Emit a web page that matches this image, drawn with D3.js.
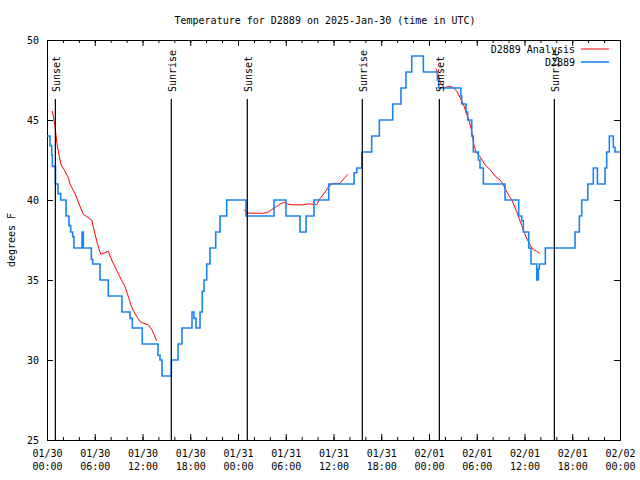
<!DOCTYPE html>
<html>
<head>
<meta charset="utf-8">
<script src="https://cdn.jsdelivr.net/npm/d3@7"></script>
<style>
    body { margin: 0; background: #fff; }
    text { font-family: "DejaVu Sans Mono", monospace; font-size: 10px; fill: #000; }
</style>
</head>
<body>
<div id="chart"></div>
<script>
const startTime = Date.UTC(2025, 0, 30);

// observations: hours since 01/30 00:00 UTC where the reading changes, and the new reading
const obsHours = [0.0, 0.38, 0.59, 0.67, 1.07, 1.38, 1.72, 2.39, 2.76, 2.98, 3.23, 3.39, 4.40, 4.56,
    5.57, 5.74, 6.66, 7.70, 9.42, 10.43, 10.72, 11.97, 13.95, 14.20, 14.45, 15.62, 16.46, 16.96,
    18.22, 18.47, 18.72, 19.23, 19.51, 19.73, 20.07, 20.48, 21.20, 21.74, 22.58, 25.01, 28.53,
    30.03, 31.79, 32.55, 33.55, 35.40, 38.58, 38.92, 39.55, 40.80, 41.76, 43.44, 44.48, 45.11,
    45.83, 47.29, 49.05, 49.22, 51.99, 52.11, 52.65, 52.86, 53.37, 53.57, 54.20, 54.41, 54.83,
    57.55, 59.27, 59.65, 59.85, 60.53, 60.82, 61.54, 61.74, 61.86, 62.62, 66.35, 66.89, 67.19,
    67.95, 68.65, 69.16, 70.12, 70.33, 70.66, 71.16, 71.37, 72.0];
const obsTemps = [44, 43.4, 42.8, 42.1, 41, 40.4, 40, 39, 38.4, 38, 37.7, 37, 38, 37,
    36.3, 36, 35, 34, 33, 32.6, 32, 31, 30.3, 30, 29, 30, 31, 32,
    33, 32.6, 32, 33, 34.3, 35, 36, 37, 38, 39, 40, 39, 40,
    39, 38, 39, 40, 41, 41.7, 42, 43, 44, 45, 46, 47, 48,
    49, 48, 47.5, 47, 46.5, 46, 45.5, 45, 44, 43, 42.5, 42, 41,
    40, 39, 38.7, 38, 37, 36, 35, 35.7, 36, 37, 38, 39, 40,
    41, 42, 41, 42, 43, 44, 43.3, 43, 43];

// analysis: null marks a gap between runs
const analysisHours = [0.67, 1.01, 1.13, 1.29, 1.55, 1.76, 2.14, 2.68, 2.89, 3.52, 4.15, 4.56, 4.99,
    5.62, 5.91, 6.32, 6.75, 7.29, 7.70, 8.13, 8.76, 9.39, 9.80, 10.22, 10.64, 11.06, 11.69,
    12.10, 12.73, 13.16, 13.48, 13.78, null,
    24.79, 25.09, 25.92, 27.18, 27.81, 28.24, 28.86, 29.49, 29.91, 30.20, 30.75, 32.21, 32.63,
    33.26, 33.89, 34.31, 34.81, 35.35, 35.90, 36.82, 37.23, 37.79, null,
    48.88, 49.10, 49.38, 49.60, 50.01, 50.64, 51.14, 51.48, 51.90, 52.31, 52.71, 53.07, 53.37,
    53.66, 53.91, 54.41, 55.04, 55.67, 56.30, 56.93, 57.34, 57.84, 58.40, 59.00, 59.65, 60.19,
    60.69, 61.11, 61.54, 61.86];
const analysisTemps = [45.56, 44.6, 44.06, 43.4, 42.7, 42.2, 41.9, 41.4, 41.0, 40.4, 39.6, 39.1, 38.96,
    38.75, 38.1, 37.3, 36.6, 36.7, 36.8, 36.25, 35.6, 34.96, 34.6, 33.96, 33.3, 32.9, 32.4,
    32.3, 32.2, 31.9, 31.56, 31.2, null,
    39.4, 39.2, 39.17, 39.17, 39.25, 39.4, 39.6, 39.8, 39.86, 39.75, 39.7, 39.7, 39.75,
    39.75, 39.7, 40.1, 40.4, 40.8, 41.04, 41.04, 41.3, 41.6, null,
    48.2, 47.9, 47.4, 47.2, 47.04, 47.1, 47.0, 46.8, 46.4, 46.0, 45.4, 44.9, 44.3,
    43.4, 43.0, 42.7, 42.2, 41.9, 41.5, 41.25, 40.95, 40.45, 40.0, 39.3, 38.4, 37.7,
    37.2, 36.9, 36.8, 36.67];

const sunHours = [1.05, 15.62, 25.17, 39.62, 49.3, 63.75];
const sunLabels = ["Sunset", "Sunrise", "Sunset", "Sunrise", "Sunset", "Sunrise"];

const xTickHours = [0, 6, 12, 18, 24, 30, 36, 42, 48, 54, 60, 66, 72];
const xMinorHours = d3.range(0, 73, 2);
const yTicks = [25, 30, 35, 40, 45, 50];

const legendNames = ["D2889 Analysis", "D2889"];
const legendColors = ["#ff0000", "#1a84f2"];

const hourToDate = h => new Date(startTime + h * 3600 * 1000);

class TemperatureChart {
    constructor(selector) {
        this.selector = selector;
        this.margin = { top: 40, right: 20, bottom: 40, left: 47 };
        this.width = 640 - this.margin.left - this.margin.right;
        this.height = 480 - this.margin.top - this.margin.bottom;
    }

    createCanvas() {
        const root = d3.select(this.selector)
            .append("svg")
            .attr("width", 640)
            .attr("height", 480);
        this.root = root;
        return root.append("g")
            .attr("transform", "translate(" + this.margin.left + "," + this.margin.top + ")");
    }

    createScales() {
        this.x = d3.scaleUtc()
            .domain([hourToDate(0), hourToDate(72)])
            .range([0, this.width]);
        this.y = d3.scaleLinear()
            .domain([25, 50])
            .range([this.height, 0]);
    }

    renderAxes(svg) {
        const x = this.x, y = this.y;
        const dayFmt = d3.utcFormat("%m/%d"), timeFmt = d3.utcFormat("%H:%M");

        // minor ticks, bottom and top
        svg.append("g")
            .attr("transform", "translate(0," + this.height + ")")
            .call(d3.axisBottom(x).tickValues(xMinorHours.map(hourToDate)).tickSize(-3).tickFormat(""));
        svg.append("g")
            .call(d3.axisTop(x).tickValues(xMinorHours.map(hourToDate)).tickSize(-3).tickFormat(""));

        // major ticks with two-line labels
        const bottom = svg.append("g")
            .attr("transform", "translate(0," + this.height + ")")
            .call(d3.axisBottom(x).tickValues(xTickHours.map(hourToDate)).tickSize(-6).tickPadding(10));
        bottom.selectAll(".tick text").each(function (d) {
            const t = d3.select(this).text(null).attr("dy", "0.71em");
            t.append("tspan").attr("x", 0).text(dayFmt(d));
            t.append("tspan").attr("x", 0).attr("dy", 13).text(timeFmt(d));
        });
        svg.append("g")
            .call(d3.axisTop(x).tickValues(xTickHours.map(hourToDate)).tickSize(-6).tickFormat(""));

        svg.append("g")
            .call(d3.axisLeft(y).tickValues(yTicks).tickSize(-6).tickPadding(8));
        svg.append("g")
            .attr("transform", "translate(" + this.width + ",0)")
            .call(d3.axisRight(y).tickValues(yTicks).tickSize(-6).tickFormat(""));

        svg.selectAll(".domain").remove();
        svg.selectAll(".tick line").attr("stroke", "#000");
        svg.selectAll(".tick text").style("font-family", null).style("font-size", null)
            .attr("font-family", null).attr("font-size", null);

        svg.append("rect")
            .attr("width", this.width)
            .attr("height", this.height)
            .attr("fill", "none")
            .attr("stroke", "#000")
            .attr("shape-rendering", "crispEdges");
    }

    renderSeries(svg) {
        const x = this.x, y = this.y;

        const analysisLine = d3.line()
            .defined(i => analysisHours[i] !== null)
            .x(i => x(hourToDate(analysisHours[i])))
            .y(i => y(analysisTemps[i]));
        svg.append("path")
            .datum(d3.range(analysisHours.length))
            .attr("fill", "none")
            .attr("stroke", legendColors[0])
            .attr("stroke-width", 1)
            .attr("d", analysisLine);

        const obsLine = d3.line()
            .curve(d3.curveStepAfter)
            .x(i => x(hourToDate(obsHours[i])))
            .y(i => y(obsTemps[i]));
        svg.append("path")
            .datum(d3.range(obsHours.length))
            .attr("fill", "none")
            .attr("stroke", legendColors[1])
            .attr("stroke-width", 1.6)
            .attr("d", obsLine);
    }

    renderSunEvents(svg) {
        const x = this.x;
        const g = svg.selectAll(".sun")
            .data(sunHours)
            .enter()
            .append("g")
            .attr("transform", d => "translate(" + x(hourToDate(d)) + ",0)");
        g.append("line")
            .attr("y1", 59)
            .attr("y2", this.height)
            .attr("stroke", "#000")
            .attr("stroke-width", 1.2);
        g.append("text")
            .attr("transform", "translate(5,52) rotate(-90)")
            .attr("text-anchor", "start")
            .text((_, i) => sunLabels[i]);
    }

    renderLegend(svg) {
        const item = svg.selectAll(".legend")
            .data(legendNames)
            .enter()
            .append("g")
            .attr("transform", (_, i) => "translate(0," + (9 + i * 13) + ")");
        item.append("text")
            .attr("x", 528)
            .attr("dy", "0.35em")
            .attr("text-anchor", "end")
            .text(d => d);
        item.append("line")
            .attr("x1", 534)
            .attr("x2", 562)
            .attr("stroke", (_, i) => legendColors[i])
            .attr("stroke-width", (_, i) => i === 0 ? 1 : 1.6);
    }

    renderLabels() {
        this.root.append("text")
            .attr("x", 325)
            .attr("y", 20)
            .attr("dy", "0.35em")
            .attr("text-anchor", "middle")
            .text("Temperature for D2889 on 2025-Jan-30 (time in UTC)");
        this.root.append("text")
            .attr("transform", "translate(11,240) rotate(-90)")
            .attr("dy", "0.35em")
            .attr("text-anchor", "middle")
            .text("degrees F");
    }

    build() {
        const svg = this.createCanvas();
        this.createScales();
        this.renderAxes(svg);
        this.renderSeries(svg);
        this.renderSunEvents(svg);
        this.renderLegend(svg);
        this.renderLabels();
    }
}

new TemperatureChart("#chart").build();
</script>
</body>
</html>
